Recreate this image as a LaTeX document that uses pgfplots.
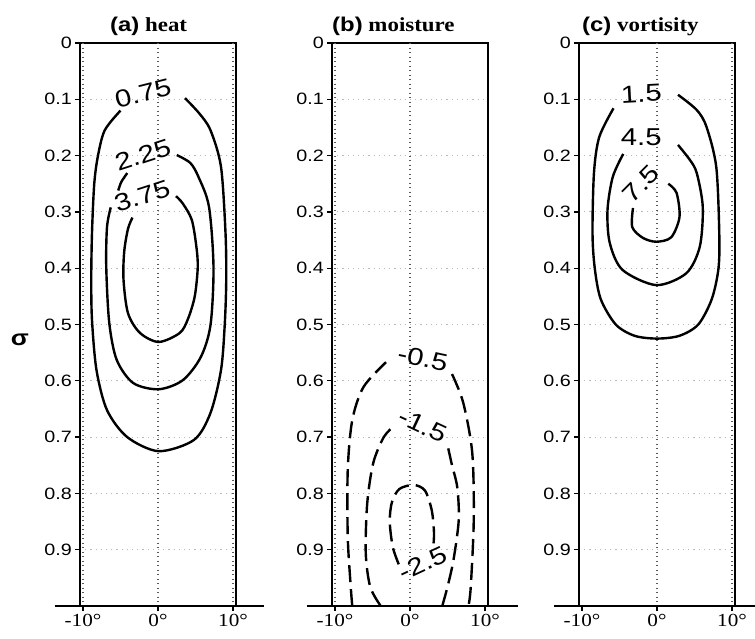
\documentclass[border=0pt]{standalone}
\usepackage{fontspec}
\setmainfont{Liberation Serif}[FakeStretch=1.15]
\newfontfamily\lsans{Liberation Sans}[FakeStretch=1.2]
\usepackage{pgfplots}
\pgfplotsset{compat=1.18}
\pgfplotsset{
  panel/.style={
    scale only axis, width=156bp, height=563bp, anchor=south west,
    xmin=-10.4, xmax=10.4, ymin=0, ymax=1, y dir=reverse, clip=false,
    xtick={-10,0,10}, xticklabels={-10°,0°,10°},
    ytick={0,0.1,0.2,0.3,0.4,0.5,0.6,0.7,0.8,0.9},
    yticklabels={0,0.1,0.2,0.3,0.4,0.5,0.6,0.7,0.8,0.9},
    /pgf/number format/assume math mode=true,
    tick align=outside, xtick pos=left, ytick pos=left,
    major tick length=5bp, tick style={black, line width=1.3bp},
    axis line style={line width=2bp},
    ymajorgrids, y grid style={black!28, line width=0.9bp, dash pattern=on 1.2bp off 4bp},
    xticklabel style={font=\fontsize{18.5}{18.5}\selectfont, inner sep=3bp},
    yticklabel style={font=\lsans\fontsize{16.5}{16.5}\selectfont, inner sep=3bp},
  },
}
\tikzset{
  vgrid/.style={black!65, line width=1.1bp, dash pattern=on 1.3bp off 3.2bp},
  cline/.style={black, line width=2.4bp, smooth},
  dline/.style={black, line width=2.4bp, smooth, dash pattern=on 17bp off 7bp},
  clab/.style={font=\lsans\fontsize{24.5}{24.5}\selectfont, inner sep=0pt},
  ptitle/.style={font=\fontsize{20}{20}\selectfont\bfseries, inner sep=0pt},
}
\begin{document}
\begin{tikzpicture}
\path[use as bounding box] (0,0) rectangle (755bp,639bp);
% ---------------- (a) heat
\begin{axis}[panel, at={(80bp,33bp)}]
\draw[vgrid] (axis cs:-10,0) -- (axis cs:-10,1);
\draw[vgrid] (axis cs:0,0) -- (axis cs:0,1);
\draw[vgrid] (axis cs:10,0) -- (axis cs:10,1);
\draw[line width=2bp] ([xshift=-25bp]axis description cs:0,0) -- ([xshift=28bp]axis description cs:1,0);
% 0.75
\addplot[cline] coordinates {(3.6,0.098) (5.5,0.125) (7.0,0.155) (8.4,0.22) (9.0,0.337) (9.1,0.42) (8.9,0.50) (8.4,0.581) (7.0,0.657) (4.8,0.705) (0.1,0.725) (-4.1,0.70) (-6.8,0.652) (-8.2,0.581) (-8.8,0.492) (-8.9,0.42) (-8.8,0.337) (-8.5,0.25) (-8.0,0.20) (-7.1,0.155) (-5.0,0.12)};
% 2.25
\addplot[cline] coordinates {(2.5,0.199) (4.3,0.213) (5.4,0.238) (6.8,0.291) (7.4,0.398) (7.0,0.501) (5.7,0.558) (3.3,0.599) (0.1,0.615) (-3.3,0.604) (-5.5,0.563) (-6.5,0.497) (-6.9,0.398) (-6.8,0.327) (-6.3,0.292)};
\addplot[cline] coordinates {(-4.1,0.231) (-4.9,0.247) (-5.3,0.262)};
% 3.75
\addplot[cline] coordinates {(2.4,0.272) (3.3,0.285) (4.5,0.314) (5.1,0.36) (5.3,0.398) (4.9,0.45) (4.0,0.49) (2.9,0.515) (0.1,0.531) (-2.4,0.515) (-4.0,0.48) (-4.6,0.42) (-4.5,0.37) (-4.0,0.33) (-3.4,0.31)};
\node[clab, rotate=14] at (axis cs:-2.0,0.089) {0.75};
\node[clab, rotate=18] at (axis cs:-2.0,0.199) {2.25};
\node[clab, rotate=18] at (axis cs:-2.1,0.272) {3.75};
\node[ptitle, anchor=base] at ([yshift=11bp]axis description cs:0.44,1) {{\lsans (a)} heat};
\node[font=\lsans\bfseries\fontsize{22}{22}\selectfont] at (axis description cs:-0.385,0.472) {σ};
\end{axis}
% ---------------- (b) moisture
\begin{axis}[panel, at={(332bp,33bp)}]
\draw[vgrid] (axis cs:-10,0) -- (axis cs:-10,1);
\draw[vgrid] (axis cs:0,0) -- (axis cs:0,1);
\draw[line width=2bp] ([xshift=-25bp]axis description cs:0,0) -- ([xshift=30bp]axis description cs:1,0);
% -0.5
\addplot[dline] coordinates {(-7.7,1.0) (-7.9,0.966) (-8.3,0.877) (-8.3,0.758) (-7.7,0.670) (-6.2,0.611) (-3.2,0.567)};
\addplot[dline] coordinates {(5.6,0.588) (7.1,0.639) (8.3,0.728) (8.5,0.847) (8.1,0.966) (7.8,1.0)};
% -1.5
\addplot[dline] coordinates {(-3.9,1.0) (-5.3,0.966) (-5.9,0.906) (-5.7,0.817) (-4.9,0.746) (-3.5,0.70) (-2.1,0.680)};
\addplot[dline] coordinates {(5.1,0.72) (5.6,0.75) (6.3,0.789) (6.5,0.847) (5.8,0.918) (5.0,0.966) (4.3,1.0)};
% -2.5
\addplot[dline] coordinates {(-1.5,0.926) (-2.3,0.895) (-2.7,0.85) (-2.4,0.815) (-1.4,0.792) (0.5,0.785) (2.0,0.795) (2.9,0.83) (3.2,0.87) (3.1,0.895)};
\node[clab, rotate=-12] at (axis cs:1.7,0.56) {-0.5};
\node[clab, rotate=-25] at (axis cs:1.7,0.679) {-1.5};
\node[clab, rotate=25] at (axis cs:1.7,0.924) {-2.5};
\node[ptitle, anchor=base west] at ([yshift=11bp]axis description cs:0,1) {{\lsans (b)} moisture};
\end{axis}
% ---------------- (c) vortisity
\begin{axis}[panel, at={(579bp,33bp)}]
\draw[vgrid] (axis cs:0,0) -- (axis cs:0,1);
\draw[vgrid] (axis cs:10,0) -- (axis cs:10,1);
\draw[line width=2bp] ([xshift=-25bp]axis description cs:0,0) -- ([xshift=30bp]axis description cs:1,0);
% 1.5
\addplot[cline] coordinates {(-5.8,0.116) (-7.7,0.167) (-8.4,0.23) (-8.6,0.337) (-8.3,0.40) (-7.5,0.455) (-5.5,0.50) (-3,0.52) (0,0.525) (3,0.52) (5.5,0.50) (7.3,0.455) (8.2,0.40) (8.3,0.337) (7.9,0.22) (6.6,0.149) (5.3,0.119) (2.8,0.092)};
% 4.5
\addplot[cline] coordinates {(-4.5,0.197) (-5.9,0.238) (-6.6,0.297) (-6.3,0.355) (-4.6,0.403) (-0.1,0.43) (3.9,0.409) (5.7,0.362) (6.1,0.291) (5.3,0.231) (4.4,0.208) (2.8,0.181)};
% 7.5
\addplot[cline] coordinates {(-3.2,0.293) (-3.3,0.327) (-1.9,0.346) (-0.1,0.353) (1.9,0.345) (3.0,0.309) (2.6,0.266) (1.5,0.25)};
\node[clab, rotate=3] at (axis cs:-2.1,0.09) {1.5};
\node[clab] at (axis cs:-2.1,0.168) {4.5};
\node[clab, rotate=45] at (axis cs:-2.1,0.25) {7.5};
\node[ptitle, anchor=base west] at ([xshift=3bp, yshift=11bp]axis description cs:0,1) {{\lsans (c)} vortisity};
\end{axis}
\end{tikzpicture}
\end{document}
